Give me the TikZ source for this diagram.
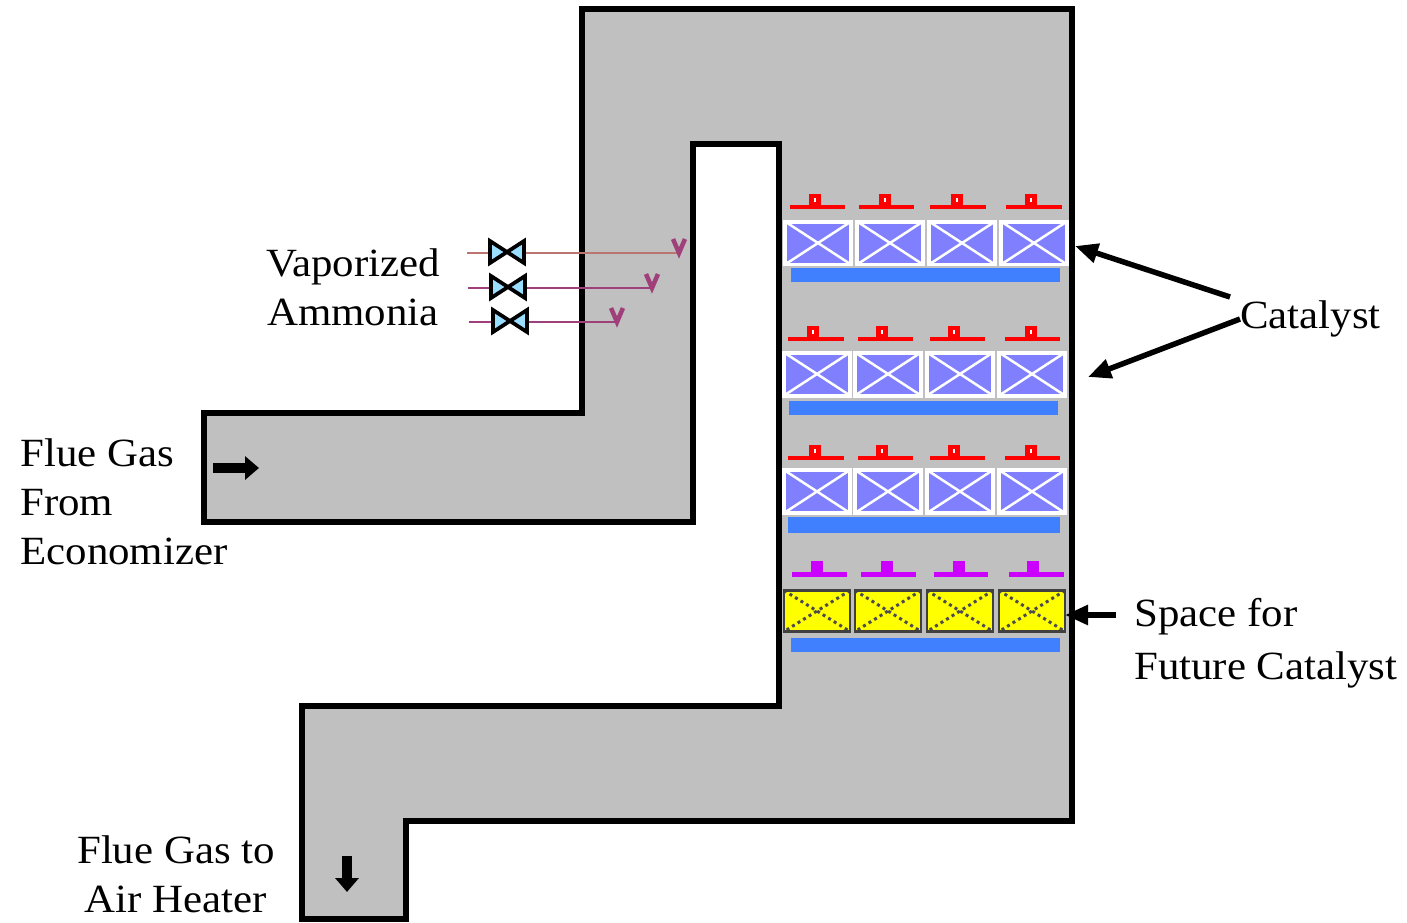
\documentclass[tikz,border=0pt]{standalone}
\usepackage{xcolor}
\usepackage{fontspec}
\setmainfont[FakeStretch=1.07]{Liberation Serif}
\usetikzlibrary{arrows.meta}
\definecolor{ductgray}{HTML}{C0C0C0}
\definecolor{catpurple}{HTML}{8080FF}
\definecolor{barblue}{HTML}{4080FF}
\definecolor{damred}{HTML}{FF0000}
\definecolor{dammagenta}{HTML}{CC00FF}
\definecolor{valveblue}{HTML}{99DDFF}
\definecolor{futureyellow}{HTML}{FFFF00}
\definecolor{pipeplum}{HTML}{A0407A}
\definecolor{pipetan}{HTML}{BC7470}
\tikzset{
  duct/.style={draw=black, line width=0.11cm, fill=ductgray, line join=miter},
  catblock/.style={draw=white, line width=0.08cm, fill=catpurple, inner sep=0pt, outer sep=0pt, minimum width=1.32cm, minimum height=0.86cm,
    path picture={\draw[white, line width=0.05cm] (path picture bounding box.north west) -- (path picture bounding box.south east) (path picture bounding box.north east) -- (path picture bounding box.south west);}},
  futureblock/.style={draw=black!75, line width=0.05cm, fill=futureyellow, inner sep=0pt, outer sep=0pt, minimum width=1.32cm, minimum height=0.82cm,
    path picture={\draw[black!70, line width=0.06cm, dotted] (path picture bounding box.north west) -- (path picture bounding box.south east) (path picture bounding box.north east) -- (path picture bounding box.south west);}},
  label/.style={font=\fontsize{22.8}{27.9}\selectfont, inner sep=0pt, align=left},
  callout/.style={-{Triangle[length=0.46cm, width=0.38cm]}, line width=0.11cm, black},
  flowarrow/.style={-{Triangle[length=0.28cm, width=0.46cm]}, line width=0.2cm, black},
  pipe/.style={line width=0.055cm, pipeplum},
  valve/.style={draw=black, line width=0.075cm, fill=valveblue, line join=miter}
}
\begin{document}
\begin{tikzpicture}[x=0.02cm, y=-0.02cm]
  \useasboundingbox (0,0) rectangle (1407,923);
  \draw[duct] (582,9) -- (1072,9) -- (1072,821) -- (406,821) -- (406,919) -- (302,919) -- (302,706) -- (779,706) -- (779,144) -- (693,144) -- (693,522) -- (204,522) -- (204,413) -- (582,413) -- cycle;

  % catalyst rows
  \foreach \r/\yc/\xa/\xb/\xc/\xd in {1/243/818/890/962/1034, 2/374/817/888/960/1032, 3/491.5/817/888/960/1032} {
    \node[catblock] (cat\r a) at (\xa,\yc) {};
    \node[catblock] (cat\r b) at (\xb,\yc) {};
    \node[catblock] (cat\r c) at (\xc,\yc) {};
    \node[catblock] (cat\r d) at (\xd,\yc) {};
  }
  \foreach \s/\xa in {a/817, b/888, c/960, d/1032} {
    \node[futureblock] (fut\s) at (\xa,611) {};
  }

  % support beams
  \fill[barblue] (791,268) rectangle (1060,282);
  \fill[barblue] (789,401) rectangle (1058,415);
  \fill[barblue] (788,517) rectangle (1060,533);
  \fill[barblue] (791,638) rectangle (1060,652);

  % soot blowers
  \foreach \xl/\xr/\xp/\yb in {790/845/815/207, 859/914/885/207, 930/986/957/207, 1006/1062/1031/207,
      788/844/813/339, 858/913/882/339, 930/985/954/339, 1005/1060/1031/339,
      788/844/815/458, 858/913/882/458, 930/985/954/458, 1005/1060/1031/458} {
    \fill[damred] (\xl,\yb-2) rectangle (\xr,\yb+2);
    \fill[damred] (\xp-6,\yb-13) rectangle (\xp+6,\yb);
    \fill[white] (\xp-1,\yb-9) rectangle (\xp+1,\yb-5);
  }
  \foreach \xl/\xr/\xp in {792/847/817, 861/916/887, 934/988/959, 1009/1064/1033} {
    \fill[dammagenta] (\xl,572) rectangle (\xr,577);
    \fill[dammagenta] (\xp-6,561) rectangle (\xp+6,573);
  }

  % ammonia lines
  \coordinate (inA) at (467,253);
  \coordinate (inB) at (468,288);
  \coordinate (inC) at (469,322);
  \coordinate (endA) at (679,253);
  \coordinate (endB) at (652,288);
  \coordinate (endC) at (617,322);
  \draw[pipe, pipetan] (inA) -- (endA);
  \draw[pipe] (inB) -- (endB);
  \draw[pipe] (inC) -- (endC);
  \foreach \e in {endA, endB, endC} {
    \draw[line width=0.09cm, pipeplum] (\e) ++(-6,-14) -- ++(6,14) -- ++(6,-14);
  }
  \foreach \x/\y in {507/252, 508/287, 510/321} {
    \draw[valve] (\x-17,\y-11) -- (\x+17,\y+11) -- (\x+17,\y-11) -- (\x-17,\y+11) -- cycle;
  }

  % labels
  \node[label, align=center] (ammonia) at (353,287) {Vaporized\\Ammonia};
  \node[label, anchor=west] (inlet) at (20,502) {Flue Gas\\From\\Economizer};
  \node[label, align=center] (outlet) at (176,874) {Flue Gas to\\Air Heater};
  \node[label, anchor=west] (catalyst) at (1240,319) {Catalyst};
  \node[label, anchor=west, font=\fontsize{22.8}{30}\selectfont] (future) at (1134,643) {Space for\\Future Catalyst};

  % arrows
  \coordinate (tipA) at (1075,246);
  \coordinate (tipB) at (1088,377);
  \coordinate (inletflow) at (213,468);
  \coordinate (inlethead) at (259,468);
  \coordinate (outletflow) at (347,856);
  \coordinate (outlethead) at (347,892);
  \draw[callout] (catalyst.west) ++(-10,-22) -- (tipA);
  \draw[callout] (catalyst.west) -- (tipB);
  \draw[callout] (1116,615) -- (futd.east |- 0,615);
  \draw[flowarrow] (inletflow) -- (inlethead);
  \draw[flowarrow] (outletflow) -- (outlethead);
\end{tikzpicture}
\end{document}
